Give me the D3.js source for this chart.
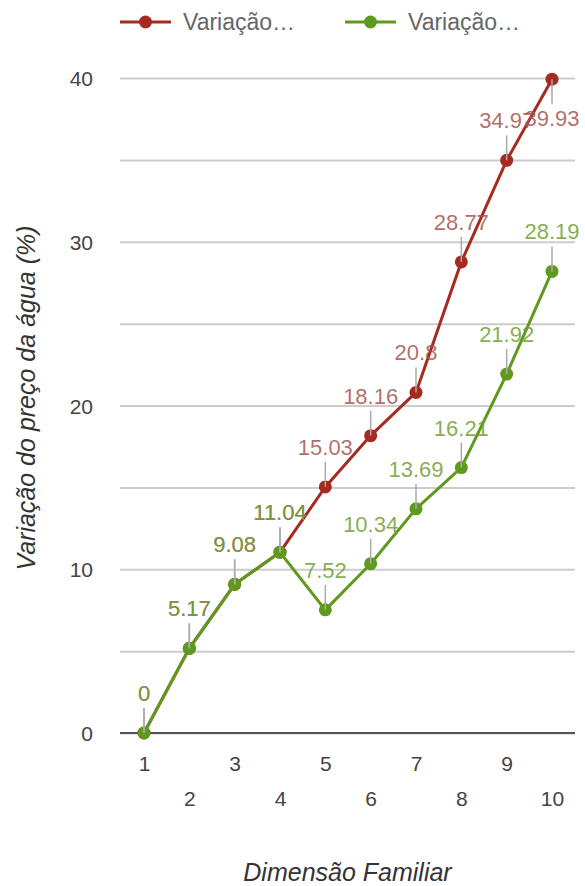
<!DOCTYPE html>
<html>
<head>
<meta charset="utf-8">
<script src="https://cdn.jsdelivr.net/npm/d3@7"></script>
<style>
  body { margin: 0; background: #fff; }
  svg text { font-family: Arial, "Liberation Sans", sans-serif; }
</style>
</head>
<body>
<svg id="chart" width="585" height="886"></svg>
<script>
const familySizes = [1, 2, 3, 4, 5, 6, 7, 8, 9, 10];
const redValues   = [0, 5.17, 9.08, 11.04, 15.03, 18.16, 20.8, 28.77, 34.97, 39.93];
const greenValues = [0, 5.17, 9.08, 11.04, 7.52, 10.34, 13.69, 16.21, 21.92, 28.19];
const legendNames = ['Variação…', 'Variação…'];
const yTicks = [0, 10, 20, 30, 40];
const gridTicks = [0, 5, 10, 15, 20, 25, 30, 35, 40];

const RED = '#a52a1f', GREEN = '#5f9a1e';
const RED_LBL = '#a5544f', GREEN_LBL = '#6f9e34';

const svg = d3.select('#chart');
const area = { left: 120, right: 575, top: 78, bottom: 733 };

const x = d3.scaleLinear().domain([1, 10]).range([144, 552]);
const y = d3.scaleLinear().domain([0, 40]).range([area.bottom, area.top]);

// ── Gridlines ──
svg.append('g')
  .attr('transform', `translate(${area.left},0)`)
  .call(d3.axisLeft(y).tickValues(gridTicks).tickSize(-(area.right - area.left)).tickFormat(''))
  .call(g => g.select('.domain').remove())
  .selectAll('line').attr('stroke', '#cccccc').attr('stroke-width', 2);

// baseline
svg.append('line')
  .attr('x1', area.left).attr('x2', area.right)
  .attr('y1', y(0)).attr('y2', y(0))
  .attr('stroke', '#555').attr('stroke-width', 2);

// ── Y axis labels ──
svg.append('g')
  .attr('transform', 'translate(93,0)')
  .call(d3.axisLeft(y).tickValues(yTicks).tickSize(0).tickPadding(0))
  .call(g => g.select('.domain').remove())
  .selectAll('text')
  .attr('fill', '#444').style('font-size', '21px')
  .attr('dy', '0.36em');

// ── X axis labels (staggered) ──
svg.append('g')
  .attr('transform', `translate(0,${area.bottom})`)
  .call(d3.axisBottom(x).tickValues(familySizes).tickSize(0).tickFormat(d3.format('d')))
  .call(g => g.select('.domain').remove())
  .selectAll('text')
  .attr('fill', '#444').style('font-size', '21px')
  .attr('y', d => d % 2 === 1 ? 38 : 73)
  .attr('dy', 0);

// ── Axis titles ──
svg.append('text')
  .attr('x', (area.left + area.right) / 2).attr('y', 881)
  .attr('text-anchor', 'middle')
  .attr('fill', '#333').style('font-size', '25px').style('font-style', 'italic')
  .text('Dimensão Familiar');

svg.append('text')
  .attr('transform', 'translate(35,398) rotate(-90)')
  .attr('text-anchor', 'middle')
  .attr('fill', '#333').style('font-size', '25px').style('font-style', 'italic')
  .text('Variação do preço da água (%)');

// ── Series ──
const series = [
  { name: legendNames[0], values: redValues, color: RED, lbl: RED_LBL },
  { name: legendNames[1], values: greenValues, color: GREEN, lbl: GREEN_LBL }
];

const line = d3.line().x(d => x(d.s)).y(d => y(d.v));

series.forEach(s => {
  const pts = familySizes.map((f, i) => ({ s: f, v: s.values[i] }));
  svg.append('path').datum(pts)
    .attr('fill', 'none').attr('stroke', s.color).attr('stroke-width', 3)
    .attr('d', line);
  svg.append('g').selectAll('circle').data(pts).enter().append('circle')
    .attr('cx', d => x(d.s)).attr('cy', d => y(d.v))
    .attr('r', 6.5).attr('fill', s.color);
});

// ── Annotations (stems + labels) ──
series.forEach(s => {
  const pts = familySizes.map((f, i) => ({ s: f, v: s.values[i] }));
  const g = svg.append('g');
  pts.forEach(d => {
    const px = x(d.s), py = y(d.v);
    const below = py - 32 - 17 < area.top;
    g.append('line')
      .attr('x1', px).attr('x2', px)
      .attr('y1', py).attr('y2', below ? py + 25 : py - 25)
      .attr('stroke', '#aaa').attr('stroke-width', 1.5);
    const t = g.append('text')
      .attr('y', below ? py + 47 : py - 32)
      .attr('text-anchor', 'middle')
      .attr('fill', s.lbl).attr('fill-opacity', 0.85)
      .style('font-size', '22px')
      .text(d.v);
    const w = t.node().getComputedTextLength();
    t.attr('x', Math.min(px, 585 - w / 2 - 4));
  });
});

// ── Legend ──
const legendX = [120, 345];
series.forEach((s, i) => {
  const lg = svg.append('g').attr('transform', `translate(${legendX[i]},22)`);
  lg.append('line').attr('x1', 0).attr('x2', 51).attr('stroke', s.color).attr('stroke-width', 3);
  lg.append('circle').attr('cx', 25.5).attr('r', 6.5).attr('fill', s.color);
  lg.append('text').attr('x', 63).attr('y', 8)
    .attr('fill', '#666').style('font-size', '23px')
    .text(s.name);
});
</script>
</body>
</html>
